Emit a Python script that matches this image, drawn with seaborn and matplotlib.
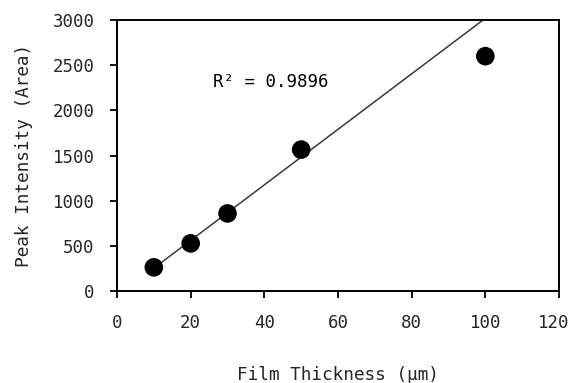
import matplotlib
matplotlib.use("Agg")
import matplotlib.pyplot as plt
import matplotlib.transforms as mtransforms
import seaborn as sns
import pandas as pd

# Data
thickness_um = [10, 20, 30, 50, 100]
peak_area = [265, 530, 861, 1567, 2600]
# Linear trendline endpoints (as drawn in the reference)
trend_x = [10, 100]
trend_y = [256, 3019]
r2_text = "R\u00b2 = 0.9896"
x_ticks = [0, 20, 40, 60, 80, 100, 120]
y_ticks = [0, 500, 1000, 1500, 2000, 2500, 3000]

sns.set_style("white")
plt.rcParams['font.family'] = ['DejaVu Sans Mono', 'DejaVu Sans']

fig, ax = plt.subplots(figsize=(5.73, 3.83), dpi=100)
fig.subplots_adjust(left=0.2042, right=0.9756, top=0.9478, bottom=0.2394)

df = pd.DataFrame({"x": thickness_um, "y": peak_area})
tdf = pd.DataFrame({"x": trend_x, "y": trend_y})

sns.lineplot(data=tdf, x="x", y="y", ax=ax, color="#3a3a3a", linewidth=1.1, zorder=2)
sns.scatterplot(data=df, x="x", y="y", ax=ax, color="black", s=180,
                edgecolor="none", zorder=3)

ax.set_xlim(0, 120)
ax.set_ylim(0, 3000)
ax.set_xticks(x_ticks)
ax.set_yticks(y_ticks)
ax.set_xticklabels([str(v) for v in x_ticks])
ax.set_yticklabels([str(v) for v in y_ticks])

ax.text(26, 2310, r2_text, ha="left", va="center", fontsize=12.5, color="black")

ax.set_xlabel("Film Thickness (\u03bcm)", fontsize=12.8, labelpad=25)
ax.set_ylabel("Peak Intensity (Area)", fontsize=12.8, labelpad=14)

for s in ax.spines.values():
    s.set_visible(True)
    s.set_color("black")
    s.set_linewidth(1.4)

ax.tick_params(axis="both", which="major", direction="out", length=5,
               width=1.3, color="black", labelsize=12.5, pad=11,
               bottom=True, left=True)

# nudge the last x tick label slightly left so it stays inside the figure
last = ax.get_xticklabels()[-1]
last.set_transform(last.get_transform() +
                   mtransforms.ScaledTranslation(-4 / 72, 0, fig.dpi_scale_trans))

fig.savefig("out.png", dpi=100)
